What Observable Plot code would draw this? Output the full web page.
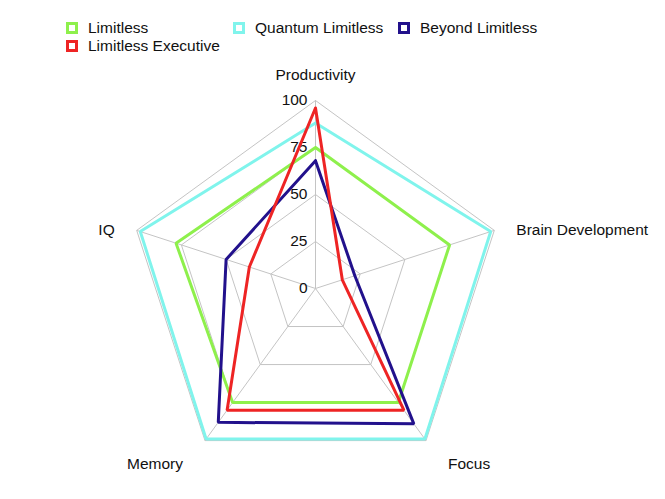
<!DOCTYPE html>
<html>
<head>
<meta charset="utf-8">
<script src="https://cdn.jsdelivr.net/npm/d3@7"></script>
<script src="https://cdn.jsdelivr.net/npm/@observablehq/plot@0.6"></script>
<style>
  body { margin: 0; background: #fff; font-family: "Liberation Sans", Arial, sans-serif; }
  #wrap { position: relative; width: 665px; height: 499px; }
  #legend { position: relative; width: 665px; height: 60px; }
  .item { position: absolute; font-size: 15.5px; color: #111; line-height: 16px; white-space: nowrap; }
  .sw { position: absolute; left: 0; top: 2px; width: 6px; height: 6px; border: 3px solid; background: #fff; }
  .lab { position: absolute; left: 22px; top: 0; }
</style>
</head>
<body>
<div id="wrap">
  <div id="legend"></div>
  <div id="chart"></div>
</div>
<script>
const axes = ["Productivity", "Brain Development", "Focus", "Memory", "IQ"];
const seriesNames = ["Limitless", "Limitless Executive", "Quantum Limitless", "Beyond Limitless"];
const colors = ["#8ef04c", "#ee2424", "#80f4ec", "#22118c"];
const limitless = [75, 75, 75, 75, 78];
const limitlessExecutive = [96, 15, 80, 80, 37];
const quantumLimitless = [88, 98, 99, 99, 98];
const beyondLimitless = [68, 22, 89, 88, 50];
const tickValues = [0, 25, 50, 75, 100];

const values = [limitless, limitlessExecutive, quantumLimitless, beyondLimitless];

// legend
const legendPos = [[66, 22], [66, 40], [233, 22], [398, 22]];
const legend = document.getElementById("legend");
seriesNames.forEach((name, i) => {
  const it = document.createElement("div");
  it.className = "item";
  it.style.left = legendPos[i][0] + "px";
  it.style.top = (legendPos[i][1] - 2) + "px";
  it.innerHTML = `<span class="sw" style="border-color:${colors[i]}"></span><span class="lab">${name}</span>`;
  legend.appendChild(it);
});

const n = axes.length;
const ang = i => (i * 2 * Math.PI) / n;
const px = (v, i) => v * Math.sin(ang(i));
const py = (v, i) => v * Math.cos(ang(i));

// polygon data
const rows = [];
const drawOrder = [2, 0, 3, 1];
drawOrder.forEach(s => {
  for (let k = 0; k <= n; k++) {
    const i = k % n;
    rows.push({series: seriesNames[s], x: px(values[s][i], i), y: py(values[s][i], i), order: k});
  }
});

// grid rings
const rings = [];
tickValues.filter(t => t > 0).forEach(t => {
  for (let k = 0; k <= n; k++) {
    const i = k % n;
    rings.push({t, x: px(t, i), y: py(t, i)});
  }
});
const spokes = axes.map((a, i) => ({x1: 0, y1: 0, x2: px(100, i), y2: py(100, i)}));

const labels = axes.map((a, i) => {
  const s = Math.sin(ang(i)), c = Math.cos(ang(i));
  const anchor = s > 0.1 ? "start" : s < -0.1 ? "end" : "middle";
  const dx = s > 0.1 ? 22 : s < -0.1 ? -22 : 0;
  const dy = c > 0.9 ? -25 : c < -0.5 ? 23 : 0;
  return {name: a, x: px(100, i), y: py(100, i), anchor, dx, dy};
});

const cx = 315, cy = 228, R = 188;
const chart = Plot.plot({
  width: 665,
  height: 439,
  margin: 0,
  x: {domain: [-100, 100], range: [cx - R, cx + R], axis: null},
  y: {domain: [-100, 100], range: [cy + R, cy - R], axis: null},
  style: {fontFamily: "'Liberation Sans', Arial, sans-serif", fontSize: "15.5px", color: "#111", background: "#fff"},
  marks: [
    Plot.link(spokes, {x1: "x1", y1: "y1", x2: "x2", y2: "y2", stroke: "#c4c4c4", strokeWidth: 1}),
    Plot.line(rings, {x: "x", y: "y", z: "t", stroke: "#c4c4c4", strokeWidth: 1}),
    Plot.text(tickValues, {x: 0, y: d => d, text: d => String(d), textAnchor: "end", dx: -8, fill: "#111", fontSize: 15.5}),
    Plot.line(rows, {x: "x", y: "y", z: "series", stroke: d => colors[seriesNames.indexOf(d.series)], strokeWidth: 3, strokeLinejoin: "miter", curve: "linear"}),
    ...labels.map(l => Plot.text([l], {x: "x", y: "y", text: "name", textAnchor: l.anchor, dx: l.dx, dy: l.dy, fill: "#111", fontSize: 15.5}))
  ]
});
document.getElementById("chart").appendChild(chart);
</script>
</body>
</html>
